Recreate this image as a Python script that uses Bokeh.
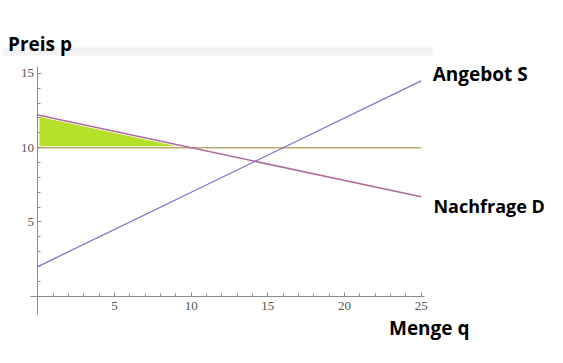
from bokeh.plotting import figure
from bokeh.models import FixedTicker, Label, BoxAnnotation
from bokeh.embed import file_html
from bokeh.resources import INLINE

# data
q_line = [0, 25]
supply_p = [2.0, 14.5]
demand_p = [12.2, 6.7]
price_p = [10.0, 10.0]
surplus_q = [0, 0, 10]
surplus_p = [10.0, 12.2, 10.0]
x_major = [5, 10, 15, 20, 25]
x_minor = list(range(1, 26))
y_major = [5, 10, 15]
y_minor = list(range(1, 16))

p = figure(frame_width=547, frame_height=347,
           x_range=(-2.44, 33.24), y_range=(-3.45, 19.91),
           output_backend="svg", toolbar_location=None,
           min_border=0)
p.outline_line_color = None
p.grid.grid_line_color = None

# axes through origin
for ax in (p.xaxis[0], p.yaxis[0]):
    ax.fixed_location = 0
    ax.axis_line_color = "#8c8c8c"
    ax.axis_line_width = 1
    ax.major_tick_line_color = "#8c8c8c"
    ax.minor_tick_line_color = "#8c8c8c"
    ax.major_tick_in = 4
    ax.major_tick_out = 0
    ax.minor_tick_in = 3
    ax.minor_tick_out = 0
    ax.major_label_text_font = "Liberation Serif"
    ax.major_label_text_font_size = "13px"
    ax.major_label_text_color = "#555555"

p.xaxis[0].bounds = (-0.5, 25.2)
p.yaxis[0].bounds = (-1.2, 15.5)
p.xaxis[0].ticker = FixedTicker(ticks=x_major, minor_ticks=x_minor)
p.yaxis[0].ticker = FixedTicker(ticks=y_major, minor_ticks=y_minor)
p.xaxis[0].major_label_standoff = 6
p.yaxis[0].major_label_standoff = 4

# consumer surplus area
p.patch(surplus_q, surplus_p, fill_color="#b4e02a", line_color="white", line_width=3)

# lines
p.line(q_line, price_p, line_color="#b8ab6c", line_width=1.6)
p.line(q_line, demand_p, line_color="#b06a9c", line_width=1.6)
p.line(q_line, supply_p, line_color="#7b76c9", line_width=1.3)

# grey band at top
p.add_layout(BoxAnnotation(left=-2.25, right=25.75, bottom=16.2, top=16.75,
                           fill_color="#f2f2f2", fill_alpha=1, line_color=None, level="underlay"))

def lab(x, y, t, size="19px"):
    p.add_layout(Label(x=x, y=y, text=t, text_font="Open Sans", text_font_style="bold",
                       text_font_size=size, text_color="black", text_baseline="middle"))

lab(-1.95, 16.95, "Preis p")
lab(25.75, 14.95, "Angebot S")
lab(25.8, 6.1, "Nachfrage D", "18px")
lab(22.9, -2.17, "Menge q")

open("out.html", "w").write(file_html(p, INLINE))
